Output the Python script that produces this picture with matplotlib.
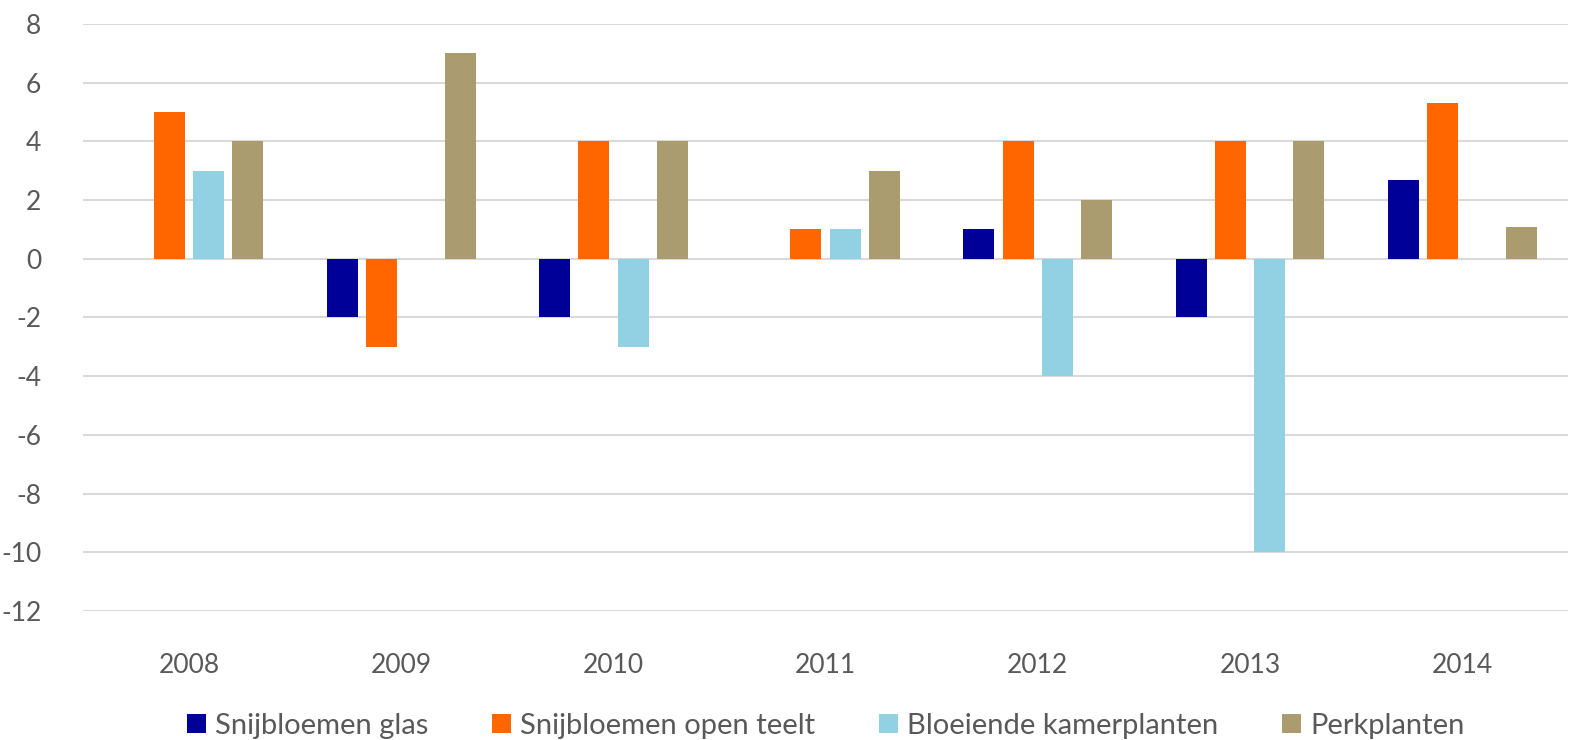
import numpy as np
import matplotlib
matplotlib.use('Agg')
import matplotlib.pyplot as plt

plt.rcParams['font.family'] = ['Lato', 'DejaVu Sans']
plt.rcParams['axes.unicode_minus'] = False

jaren = ['2008', '2009', '2010', '2011', '2012', '2013', '2014']
reeksen = ['Snijbloemen glas', 'Snijbloemen open teelt', 'Bloeiende kamerplanten', 'Perkplanten']
glas = [0, -2, -2, 0, 1, -2, 2.7]
open_teelt = [5, -3, 4, 1, 4, 4, 5.3]
kamerplanten = [3, 0, -3, 1, -4, -10, 0]
perkplanten = [4, 7, 4, 3, 2, 4, 1.1]
kleuren = ['#000099', '#FF6600', '#92D1E3', '#AA9C6F']

fig = plt.figure(figsize=(15.92, 7.40), dpi=100)
ax = fig.add_axes([0.0521, 0.1743, 0.933, 0.7933])

x = np.arange(len(jaren))
breedte = 0.146
stap = 0.185
for i, (waarden, kleur, naam) in enumerate(zip([glas, open_teelt, kamerplanten, perkplanten], kleuren, reeksen)):
    ax.bar(x + (i - 1.5) * stap, waarden, breedte, color=kleur, label=naam, zorder=3)

ax.set_xlim(-0.5, 6.5)
ax.set_ylim(-12, 8)
ax.set_yticks(range(-12, 9, 2))
ax.set_xticks(x)
ax.set_xticklabels(jaren)
ax.grid(axis='y', color='#d9d9d9', linewidth=1.5, zorder=0)
for s in ax.spines.values():
    s.set_visible(False)
ax.tick_params(axis='both', length=0, labelsize=19, colors='#595959')
ax.tick_params(axis='y', pad=30)
ax.tick_params(axis='x', pad=30)

ax.legend(loc='lower center', bbox_to_anchor=(0.5, -0.247), ncol=4, frameon=False,
          fontsize=21, handlelength=0.65, handleheight=0.65, handletextpad=0.3,
          columnspacing=2.2, labelcolor='#595959', borderpad=0.1)

fig.savefig('out.png', dpi=100)
